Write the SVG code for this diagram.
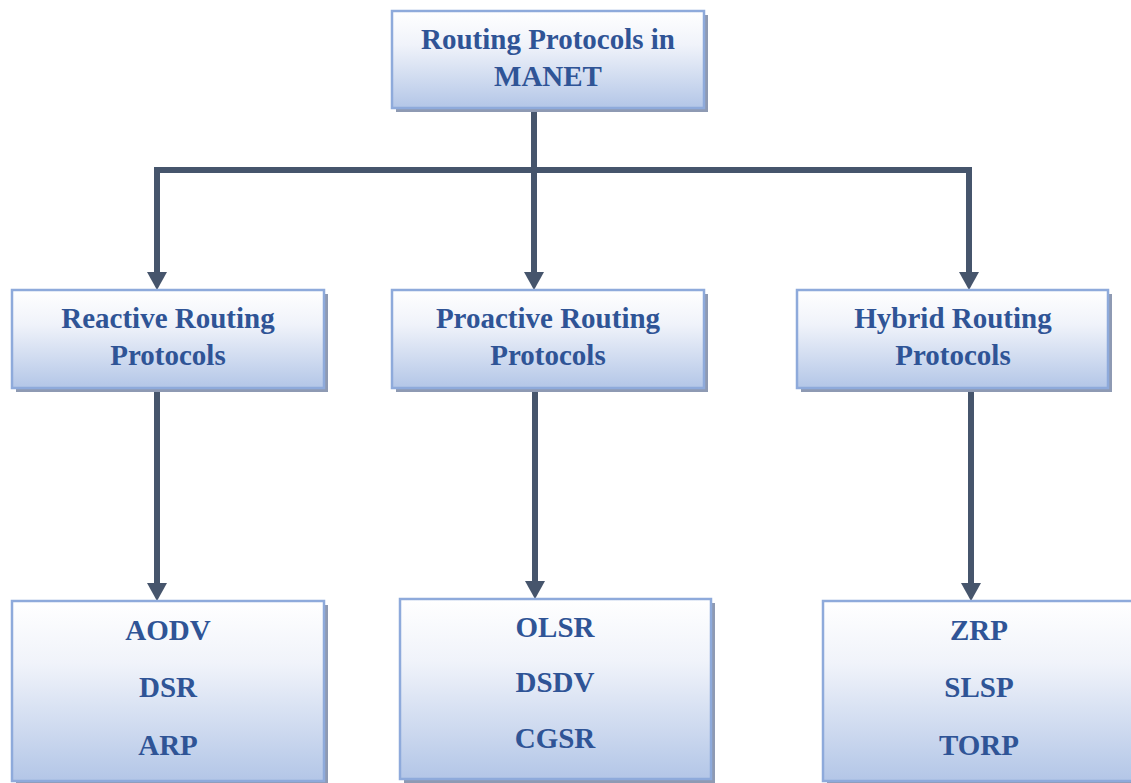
<svg xmlns="http://www.w3.org/2000/svg" width="1131" height="783" viewBox="0 0 1131 783">
<defs>
<linearGradient id="g" x1="0" y1="0" x2="0" y2="1">
<stop offset="0" stop-color="#ffffff"/>
<stop offset="0.35" stop-color="#f0f3fa"/>
<stop offset="1" stop-color="#b3c6e7"/>
</linearGradient>
<marker id="ah" viewBox="0 0 18 20" refX="0" refY="10" markerWidth="18" markerHeight="20" markerUnits="userSpaceOnUse" orient="auto">
<path d="M0,0 L18,10 L0,20 Z" fill="#46556c"/>
</marker>
</defs>
<style>
.box{fill:url(#g);stroke:#8eaadb;stroke-width:2.5}
.sh{fill:#8e9ab3}
.t{font-family:"Liberation Serif","Times New Roman",serif;font-weight:bold;font-size:29px;fill:#2f5496;text-anchor:middle}
.c{fill:none;stroke:#46556c;stroke-width:6}
</style>
<rect width="1131" height="783" fill="#ffffff"/>
<g id="connectors">
<path class="c" d="M534,108 V170"/>
<path class="c" d="M154,170 H972"/>
<path class="c" d="M157,170 V272" marker-end="url(#ah)"/>
<path class="c" d="M534,170 V272" marker-end="url(#ah)"/>
<path class="c" d="M969,170 V272" marker-end="url(#ah)"/>
<path class="c" d="M157,388 V583" marker-end="url(#ah)"/>
<path class="c" d="M535,388 V581" marker-end="url(#ah)"/>
<path class="c" d="M971,388 V583" marker-end="url(#ah)"/>
</g>
<g id="root">
<rect class="sh" x="396" y="15" width="312" height="97"/>
<rect class="box" x="392" y="11" width="312" height="97"/>
<text class="t" x="548" y="49">Routing Protocols in</text>
<text class="t" x="548" y="86">MANET</text>
</g>
<g id="reactive">
<rect class="sh" x="16" y="294" width="312" height="98"/>
<rect class="box" x="12" y="290" width="312" height="98"/>
<text class="t" x="168" y="328">Reactive Routing</text>
<text class="t" x="168" y="365">Protocols</text>
</g>
<g id="proactive">
<rect class="sh" x="396" y="294" width="312" height="98"/>
<rect class="box" x="392" y="290" width="312" height="98"/>
<text class="t" x="548" y="328">Proactive Routing</text>
<text class="t" x="548" y="365">Protocols</text>
</g>
<g id="hybrid">
<rect class="sh" x="801" y="294" width="311" height="98"/>
<rect class="box" x="797" y="290" width="311" height="98"/>
<text class="t" x="953" y="328">Hybrid Routing</text>
<text class="t" x="953" y="365">Protocols</text>
</g>
<g id="reactive-list">
<rect class="sh" x="16" y="605" width="312" height="180"/>
<rect class="box" x="12" y="601" width="312" height="180"/>
<text class="t" x="168" y="640">AODV</text>
<text class="t" x="168" y="697">DSR</text>
<text class="t" x="168" y="755">ARP</text>
</g>
<g id="proactive-list">
<rect class="sh" x="404" y="603" width="311" height="180"/>
<rect class="box" x="400" y="599" width="311" height="180"/>
<text class="t" x="555" y="637">OLSR</text>
<text class="t" x="555" y="692">DSDV</text>
<text class="t" x="555" y="748">CGSR</text>
</g>
<g id="hybrid-list">
<rect class="sh" x="827" y="605" width="312" height="180"/>
<rect class="box" x="823" y="601" width="312" height="180"/>
<text class="t" x="979" y="640">ZRP</text>
<text class="t" x="979" y="697">SLSP</text>
<text class="t" x="979" y="755">TORP</text>
</g>
</svg>
